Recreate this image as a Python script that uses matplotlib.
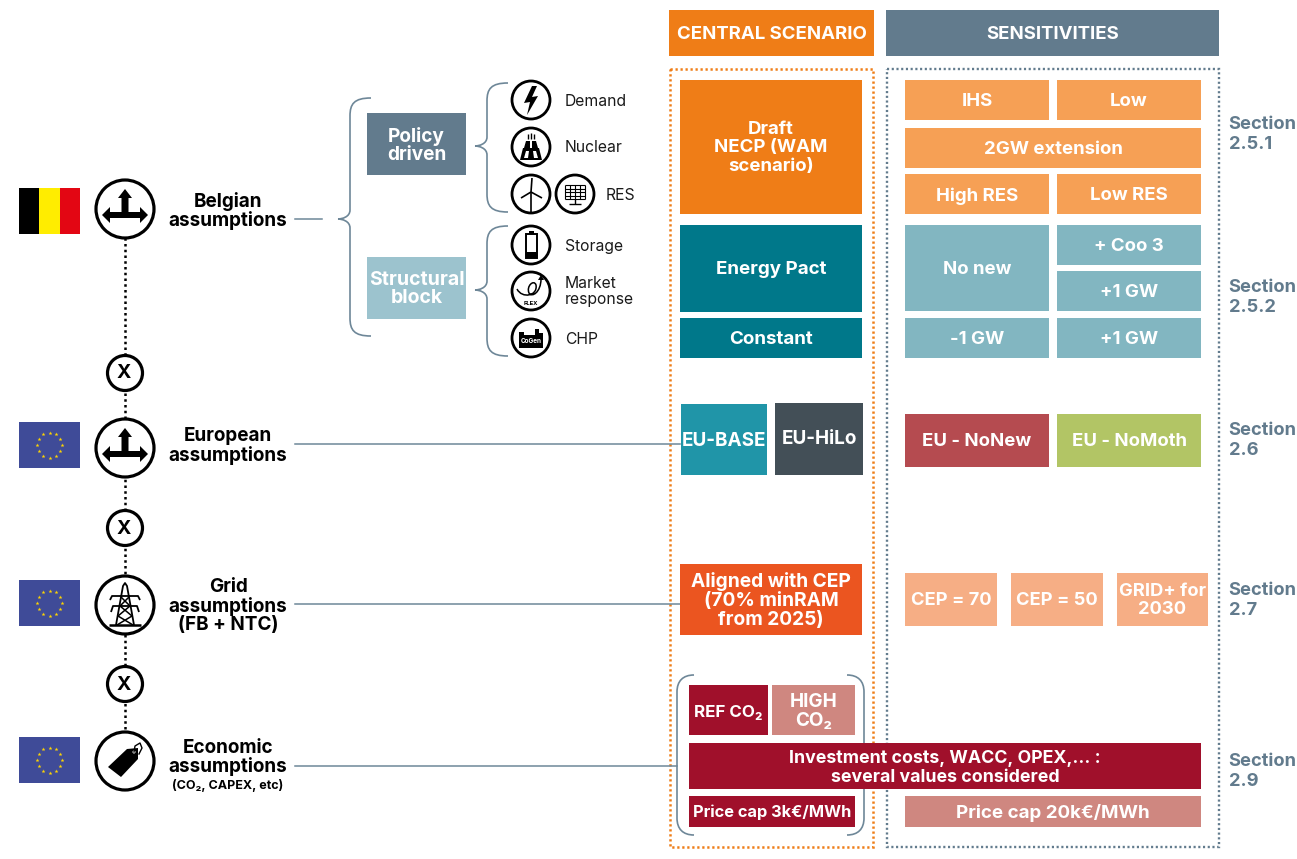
import numpy as np
import matplotlib
matplotlib.use('Agg')
import matplotlib.pyplot as plt
from matplotlib.patches import Rectangle, Circle, Polygon, PathPatch
from matplotlib.path import Path

plt.rcParams['font.family'] = ['Inter', 'Open Sans', 'DejaVu Sans']

W, H = 1297, 859

ORANGE = '#EF7D17'
ORANGE_L = '#F6A055'
PEACH = '#F6AE85'
SLATE = '#627B8D'
TEAL = '#00788A'
TEAL_L = '#82B6C1'
RED = '#A0102B'
PINK = '#CF8780'
LINE = '#6E8798'

# boxes of the two columns
box_labels = ['CENTRAL SCENARIO', 'SENSITIVITIES',
              'Draft\nNECP (WAM\nscenario)', 'IHS', 'Low', '2GW extension', 'High RES', 'Low RES',
              'Energy Pact', 'Constant', 'No new', '+ Coo 3', '+1 GW', '-1 GW', '+1 GW',
              'EU-BASE', 'EU-HiLo', 'EU - NoNew', 'EU - NoMoth',
              'Aligned with CEP\n(70% minRAM\nfrom 2025)', 'CEP = 70', 'CEP = 50', 'GRID+ for\n2030',
              'REF CO₂', 'HIGH\nCO₂', 'Investment costs, WACC, OPEX,... :\nseveral values considered',
              'Price cap 3k€/MWh', 'Price cap 20k€/MWh',
              'Policy\ndriven', 'Structural\nblock']
box_rects = [(669, 10, 874, 56), (886, 10, 1219, 56),
             (680, 80, 862, 214), (905, 80, 1049, 120), (1057, 80, 1201, 120), (905, 128, 1201, 168),
             (905, 174, 1049, 214), (1057, 174, 1201, 214),
             (680, 225, 862, 312), (680, 318, 862, 358), (905, 225, 1049, 311), (1057, 225, 1201, 265),
             (1057, 271, 1201, 311), (905, 318, 1049, 358), (1057, 318, 1201, 358),
             (681, 404, 767, 475), (775, 403, 863, 475), (905, 414, 1049, 467), (1057, 414, 1201, 467),
             (680, 564, 862, 635), (905, 573, 997, 626), (1011, 573, 1103, 626), (1117, 573, 1208, 626),
             (689, 685, 768, 735), (772, 685, 855, 735), (689, 743, 1201, 789),
             (689, 796, 855, 827), (905, 796, 1201, 827),
             (367, 113, 466, 175), (367, 257, 466, 319)]
box_colors = [ORANGE, SLATE,
              ORANGE, ORANGE_L, ORANGE_L, ORANGE_L, ORANGE_L, ORANGE_L,
              TEAL, TEAL, TEAL_L, TEAL_L, TEAL_L, TEAL_L, TEAL_L,
              '#2095A8', '#434F57', '#B54B50', '#B2C565',
              '#EB5520', PEACH, PEACH, PEACH,
              RED, PINK, RED, RED, PINK,
              SLATE, '#9CC3CE']
box_sizes = [13.4, 13.4,
             13.4, 13.4, 13.4, 13.4, 13.4, 13.4,
             13.5, 13.5, 13.4, 13.4, 13.4, 13.4, 13.4,
             13.6, 13.6, 13.4, 13.4,
             13.8, 13.2, 13.2, 13.2,
             12.2, 13.6, 12.8, 11.8, 13.5,
             13.7, 14]
box_shift = [1.5, 1.5,
             1, 2, 2, 1.5, 2, 2,
             1.5, 1, 1.5, 1.5, 1.5, 1.5, 1.5,
             1, -0.5, 1, 1,
             1, 1, 1, 1,
             2, 1.5, 2, 1, 1,
             1.5, 1]
box_leading = [1.0, 1.0,
               1.15, 1.0, 1.0, 1.0, 1.0, 1.0,
               1.0, 1.0, 1.0, 1.0, 1.0, 1.0, 1.0,
               1.0, 1.0, 1.0, 1.0,
               1.06, 1.0, 1.0, 1.06,
               1.0, 1.1, 1.17, 1.0, 1.0,
               1.02, 1.02]

assumption_labels = ['Belgian\nassumptions', 'European\nassumptions', 'Grid\nassumptions\n(FB + NTC)',
                     'Economic\nassumptions']
assumption_y = [211, 446, 606, 757.5]
hub_y = [209, 448, 605, 761]
x_y = [373, 528, 684]
flag_y = [188, 422, 580, 737]
link_ends = [322, 680, 680, 677]
link_y = [219, 444, 604, 766]

section_labels = ['Section\n2.5.1', 'Section\n2.5.2', 'Section\n2.6', 'Section\n2.7', 'Section\n2.9']
section_y = [134.5, 297.5, 440.5, 600.5, 771.5]

driver_labels = ['Demand', 'Nuclear', 'RES', 'Storage', 'Market\nresponse', 'CHP']
driver_x = [565, 565, 606, 565, 565, 565]
driver_y = [101, 148, 195, 246, 291.5, 339]

fig = plt.figure(figsize=(W / 100, H / 100), dpi=100)
ax = fig.add_axes([0, 0, 1, 1])
ax.set_xlim(0, W)
ax.set_ylim(H, 0)
ax.axis('off')


def brace(x_tip, x_spine, x_end, y_top, y_mid, y_bot, color=LINE, lw=1.2, z=2):
    # curly bracket opening to the right
    verts = [(x_end, y_top), (x_spine + 4, y_top), (x_spine, y_top + 6), (x_spine, y_top + 18),
             (x_spine, y_mid - 9),
             (x_spine, y_mid - 2), (x_tip + 4, y_mid), (x_tip, y_mid),
             (x_tip + 4, y_mid), (x_spine, y_mid + 2), (x_spine, y_mid + 9),
             (x_spine, y_bot - 18),
             (x_spine, y_bot - 6), (x_spine + 4, y_bot), (x_end, y_bot)]
    codes = [Path.MOVETO, Path.CURVE4, Path.CURVE4, Path.CURVE4,
             Path.LINETO,
             Path.CURVE4, Path.CURVE4, Path.CURVE4,
             Path.CURVE4, Path.CURVE4, Path.CURVE4,
             Path.LINETO,
             Path.CURVE4, Path.CURVE4, Path.CURVE4]
    ax.add_patch(PathPatch(Path(verts, codes), fc='none', ec=color, lw=lw, zorder=z))


def round_arc(pts, color=LINE, lw=1.2, z=2):
    codes = [Path.MOVETO, Path.CURVE4, Path.CURVE4, Path.CURVE4, Path.LINETO,
             Path.CURVE4, Path.CURVE4, Path.CURVE4]
    ax.add_patch(PathPatch(Path(pts, codes), fc='none', ec=color, lw=lw, zorder=z))


def ring(x, y, r, lw=2.3):
    ax.add_patch(Circle((x, y), r, fc='white', ec='black', lw=lw, zorder=4))


def poly(x, y, pts, color='black'):
    ax.add_patch(Polygon([(x + a, y + b) for a, b in pts], closed=True, fc=color, ec='none', zorder=5))


def seg(x, y, pts, lw=1.0):
    ax.plot([x + p[0] for p in pts], [y + p[1] for p in pts], color='black', lw=lw, zorder=5,
            solid_capstyle='butt')


def arrows_icon(x, y):
    poly(x, y, [(-3.5, 8), (-3.5, -11), (-7, -11), (0, -20), (7, -11), (3.5, -11), (3.5, 8)])
    poly(x, y, [(-15, 3), (15, 3), (15, -2), (23, 6), (15, 14), (15, 9), (-15, 9), (-15, 14), (-23, 6), (-15, -2)])


def bolt_icon(x, y):
    poly(x, y, [(1, -14), (-7, 3), (-1, 2), (-4, 15), (7, -4), (1, -3), (6, -14)])


def nuclear_icon(x, y):
    poly(x, y, [(-7, 1), (-5, -6), (-1, -6), (-1, 1)])
    poly(x, y, [(1, 1), (1, -6), (5, -6), (7, 1)])
    poly(x, y, [(-8, 1), (8, 1), (11, 13), (-11, 13)])
    poly(x, y, [(-5, 4), (-2, 4), (-3, 11), (-7, 11)], 'white')
    poly(x, y, [(2, 4), (5, 4), (7, 11), (3, 11)], 'white')
    seg(x, y, [(-3, -8), (-3, -13)], 1)
    seg(x, y, [(0, -8), (0, -14)], 1)
    seg(x, y, [(3, -8), (3, -13)], 1)


def wind_icon(x, y):
    seg(x, y, [(0, -2), (0, 18)], 1.2)
    seg(x, y, [(0, -2), (1, -16)], 1.2)
    seg(x, y, [(0, -2), (-10, 4)], 1.2)
    seg(x, y, [(0, -2), (11, 4)], 1.2)


def solar_icon(x, y):
    for i in range(5):
        seg(x, y, [(-10, -9 + 3.5 * i), (10, -9 + 3.5 * i)], 0.8)
        seg(x, y, [(-10 + 5 * i, -9), (-10 + 5 * i, 5)], 0.8)
    seg(x, y, [(0, 5), (0, 10)], 1)
    seg(x, y, [(-6, 10), (6, 10)], 1)


def battery_icon(x, y):
    ax.add_patch(Rectangle((x - 5.5, y - 11), 11, 24, fc='white', ec='black', lw=1.4, zorder=5))
    poly(x, y, [(-2.5, -14), (2.5, -14), (2.5, -11), (-2.5, -11)])
    poly(x, y, [(-5.5, 7), (5.5, 7), (5.5, 13), (-5.5, 13)])


def flex_icon(x, y):
    verts = [(-14, -2), (-9, 8), (7, 5), (5, -6), (3, -12), (-5, -5), (-2, 2), (1, 7), (10, 1), (10, -12)]
    codes = [Path.MOVETO] + [Path.CURVE4] * 9
    shifted = [(x + a, y + b) for a, b in verts]
    ax.add_patch(PathPatch(Path(shifted, codes), fc='none', ec='black', lw=1.1, zorder=5))
    poly(x, y, [(7, -11), (10, -16), (13, -11)])
    ax.text(x, y + 12.5, 'FLEX', ha='center', va='center', fontsize=4.2, fontweight='bold', zorder=6)


def cogen_icon(x, y):
    poly(x, y, [(-12, -6), (-7, -6), (-7, -3), (4, -3), (4, -9), (8, -9), (8, -5), (12, -5), (12, 10), (-12, 10)])
    ax.text(x, y + 3, 'CoGen', ha='center', va='center', fontsize=4.6, fontweight='bold', color='white', zorder=6)


def pylon_icon(x, y):
    seg(x, y, [(-9, 20), (-2, -19), (0, -22), (2, -19), (9, 20)], 1.3)
    seg(x, y, [(-15, -5), (-13, -9), (13, -9), (15, -5)], 1.3)
    seg(x, y, [(-14, 7), (-12, 1), (12, 1), (14, 7)], 1.3)
    seg(x, y, [(-5, -9), (5, 1), (-7, 11), (8, 20)], 1.1)
    seg(x, y, [(5, -9), (-5, 1), (7, 11), (-8, 20)], 1.1)
    seg(x, y, [(-16, 20), (16, 20)], 1.8)


def tag_icon(x, y):
    poly(x, y, [(-17, 6), (2, -12), (13, -13), (13, -2), (-4, 16)])
    ax.add_patch(Circle((x + 9, y - 9), 1.5, fc='white', ec='none', zorder=6))
    t = np.array([(9, -9), (10, -15), (15, -18), (17, -13), (14, -7)])
    ax.plot(x + t[:, 0], y + t[:, 1], color='black', lw=1, zorder=6)


# dotted frames
ax.add_patch(Rectangle((670, 69), 203, 778, fc='none', ec=ORANGE, lw=1.8, ls=(0, (0.9, 1.1)), zorder=1))
ax.add_patch(Rectangle((887, 69), 332, 778, fc='none', ec=SLATE, lw=1.7, ls=(0, (0.9, 1.1)), zorder=1))

# brackets
brace(338, 350, 371, 98, 219, 336)
brace(475, 487, 508, 83, 146, 212)
brace(475, 487, 508, 226, 290, 356)
round_arc([(694, 675), (683, 675), (677, 681), (677, 692), (677, 818), (677, 829), (683, 835), (694, 835)])
round_arc([(847, 675), (858, 675), (864, 681), (864, 692), (864, 818), (864, 829), (858, 835), (847, 835)])

# links
for end, yy in zip(link_ends, link_y):
    ax.plot([295, end], [yy, yy], color=LINE, lw=1.1, zorder=2)

# boxes
for label, r, c, s, d, ls in zip(box_labels, box_rects, box_colors, box_sizes, box_shift, box_leading):
    ax.add_patch(Rectangle((r[0], r[1]), r[2] - r[0], r[3] - r[1], fc=c, ec='none', zorder=3))
    ax.text((r[0] + r[2]) / 2, (r[1] + r[3]) / 2 + d, label, color='white', ha='center', va='center',
            fontsize=s, fontweight='bold', linespacing=ls, zorder=6)

# dotted spine
ax.plot([125, 125], [hub_y[0], hub_y[-1]], color='black', lw=1.8, ls=(0, (1, 1.3)), zorder=1)

# flags
for i, col in enumerate(['black', '#FFED00', '#E30613']):
    ax.add_patch(Rectangle((19 + i * 20.4, flag_y[0]), 20.4, 46, fc=col, ec='none', zorder=3))
star_angles = np.deg2rad(np.arange(0, 360, 30))
for fy in flag_y[1:]:
    ax.add_patch(Rectangle((19, fy), 61, 46, fc='#3F4B98', ec='none', zorder=3))
    ax.scatter(49.5 + 12.5 * np.cos(star_angles), fy + 23 + 12.5 * np.sin(star_angles), s=9, marker='*',
               color='#FFD500', linewidths=0, zorder=4)

# hubs
for yy in hub_y:
    ring(125, yy, 29)
arrows_icon(125, hub_y[0])
arrows_icon(125, hub_y[1])
pylon_icon(125, hub_y[2])
tag_icon(125, hub_y[3])
for yy in x_y:
    ring(125, yy, 17.5)
    ax.text(124, yy + 0.5, 'X', ha='center', va='center', fontsize=14, fontweight='bold', zorder=6)

for label, yy in zip(assumption_labels, assumption_y):
    ax.text(228, yy, label, ha='center', va='center', fontsize=13.6, fontweight='bold', linespacing=1.02, zorder=6)
ax.text(228, 786, '(CO₂, CAPEX, etc)', ha='center', va='center', fontsize=9, fontweight='bold', zorder=6)

for label, yy in zip(section_labels, section_y):
    ax.text(1228.5, yy, label, color=SLATE, ha='left', va='center', fontsize=13.2, fontweight='bold', linespacing=1.28)

# drivers
for xx, yy in [(531, 100), (531, 147), (531, 194), (575, 194), (531, 245), (531, 291), (531, 338)]:
    ring(xx, yy, 19, 2.0)
bolt_icon(531, 100)
nuclear_icon(531, 147)
wind_icon(531, 194)
solar_icon(575, 194)
battery_icon(531, 245)
flex_icon(531, 291)
cogen_icon(531, 338)
for label, xx, yy in zip(driver_labels, driver_x, driver_y):
    ax.text(xx, yy, label, ha='left', va='center', fontsize=11.3, color='#1a1a1a', linespacing=1.03, zorder=6)

fig.savefig('out.png', dpi=100, facecolor='white')
